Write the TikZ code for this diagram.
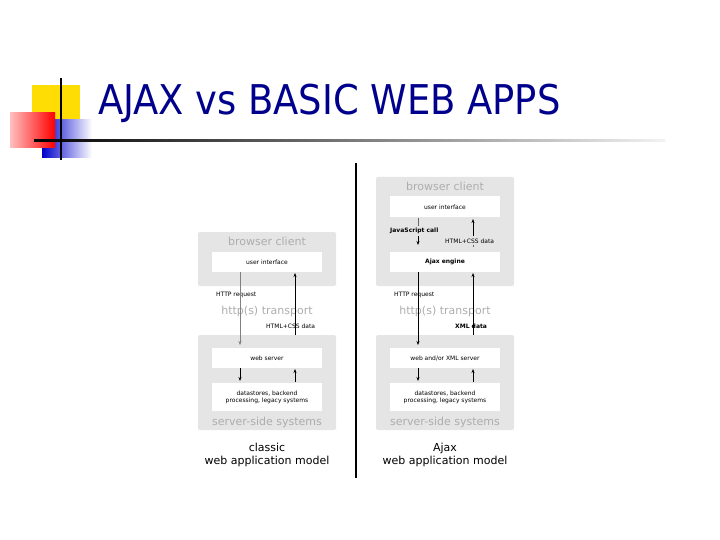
\documentclass[tikz,border=0pt]{standalone}
\usepackage{fontspec}
\usetikzlibrary{arrows.meta}
\setmainfont{DejaVu Sans}
\newfontfamily\titlefont{DejaVu Sans Condensed}
\begin{document}
\begin{tikzpicture}[x=1pt,y=-1pt,
  gbox/.style={fill=black!10,draw=none,rounded corners=2pt},
  wbox/.style={fill=white,draw=none,align=center,font=\fontsize{6}{7}\selectfont},
  ghead/.style={text=black!32,font=\fontsize{11}{12}\selectfont},
  small/.style={font=\fontsize{6}{7}\selectfont,inner sep=0pt},
  bsmall/.style={font=\fontsize{6}{7}\selectfont\bfseries,inner sep=0pt},
  captext/.style={align=center,font=\fontsize{11}{13}\selectfont},
  arr/.style={-{Stealth[length=4pt,width=3pt]},semithick},
  garr/.style={-{Stealth[length=4pt,width=3pt]},black!50}]
\useasboundingbox (0,0) rectangle (720,540);
% decoration
\fill[yellow!80!orange] (32,85) rectangle (80,125);
\shade[left color=blue!80!black,right color=white] (42,120) rectangle (92,158);
\shade[left color=red!25,right color=red] (10,113) rectangle (55,148);
\shade[left color=black,right color=black!5] (34,140) rectangle (665,142);
\draw[line width=2pt] (61,78) -- (61,160);
\node[anchor=west,text=blue!55!black,font=\titlefont\fontsize{41}{44}\selectfont,inner sep=0pt] (title) at (98,103) {AJAX vs BASIC WEB APPS};
% divider
\draw[line width=2.5pt] (356,163) -- (356,478);
% left panel
\fill[gbox] (198,232) rectangle (336,286);
\node[ghead] (lbc) at (267,241) {browser client};
\node[wbox,minimum width=110pt,minimum height=20pt] (lui) at (267,262) {user interface};
\node[ghead] (ltr) at (267,311) {http(s) transport};
\fill[gbox] (198,335) rectangle (336,430);
\node[wbox,minimum width=110pt,minimum height=20pt] (lws) at (267,358) {web server};
\node[wbox,minimum width=110pt,minimum height=28pt] (lds) at (267,397) {datastores, backend\\processing, legacy systems};
\node[ghead] (lss) at (267,422) {server-side systems};
\node[small,anchor=west] (lhr) at (216,295) {HTTP request};
\node[small,anchor=west] (lhc) at (266,326) {HTML+CSS data};
\draw[garr] (240,272) -- (240,345);
\draw[arr] (295,335) -- (295,273);
\draw[arr] (240,368) -- (240,381);
\draw[arr] (295,382) -- (295,369);
\node[captext] (lcap) at (267,455) {classic\\web application model};
% right panel
\fill[gbox] (376,177) rectangle (514,286);
\node[ghead] (rbc) at (445,186) {browser client};
\node[wbox,minimum width=110pt,minimum height=21pt] (rui) at (445,207) {user interface};
\node[wbox,minimum width=110pt,minimum height=20pt,font=\fontsize{6}{7}\selectfont\bfseries] (rae) at (445,262) {Ajax engine};
\node[bsmall,anchor=west] (rjs) at (390,231) {JavaScript call};
\node[small,anchor=west] (rhc) at (445,241) {HTML+CSS data};
\draw[arr] (418,236) -- (418,245);
\draw[black!60] (418,218) -- (418,226);
\draw[arr] (473,236) -- (473,219);
\draw[black!60] (473,245) -- (473,247);
\node[ghead] (rtr) at (445,311) {http(s) transport};
\fill[gbox] (376,335) rectangle (514,430);
\node[wbox,minimum width=110pt,minimum height=20pt] (rws) at (445,358) {web and/or XML server};
\node[wbox,minimum width=110pt,minimum height=28pt] (rds) at (445,397) {datastores, backend\\processing, legacy systems};
\node[ghead] (rss) at (445,422) {server-side systems};
\node[small,anchor=west] (rhr) at (394,295) {HTTP request};
\node[bsmall,anchor=west] (rxd) at (455,326) {XML data};
\draw[arr] (418,272) -- (418,345);
\draw[arr] (473,335) -- (473,273);
\draw[arr] (418,368) -- (418,381);
\draw[arr] (473,382) -- (473,369);
\node[captext] (rcap) at (445,455) {Ajax\\web application model};
\end{tikzpicture}
\end{document}
